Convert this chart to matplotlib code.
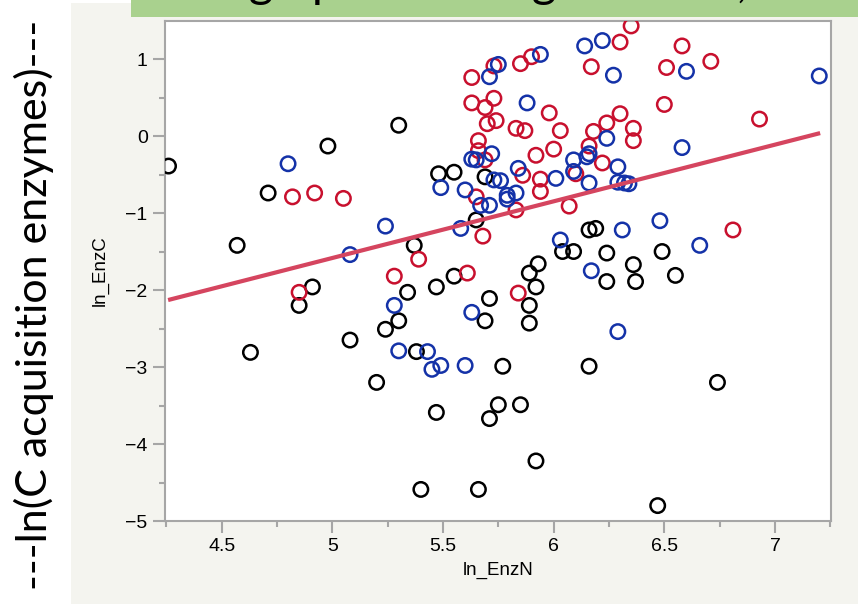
import matplotlib.pyplot as plt
from matplotlib.patches import Rectangle
from matplotlib.ticker import MultipleLocator

# ln_EnzN (x) vs ln_EnzC (y), one pair of lists per group
black_x = [4.26, 4.98, 5.30, 4.71, 4.57, 5.48, 5.55, 5.69, 5.65, 5.37,
           5.55, 4.91, 4.85, 4.63, 5.08, 5.20, 5.24, 5.30, 5.34, 5.47,
           5.38, 5.47, 5.71, 5.69, 5.77, 5.75, 5.71, 5.40, 5.66, 5.93,
           5.89, 5.92, 5.89, 5.89, 5.85, 5.92, 6.16, 6.24, 6.37, 6.36,
           6.24, 6.04, 6.09, 6.49, 6.55, 6.74, 6.47, 6.16, 6.19]
black_y = [-0.39, -0.13, 0.14, -0.74, -1.42, -0.49, -0.47, -0.53, -1.09, -1.42,
           -1.82, -1.96, -2.20, -2.81, -2.65, -3.20, -2.51, -2.40, -2.03, -1.96,
           -2.80, -3.59, -2.11, -2.40, -2.99, -3.49, -3.67, -4.59, -4.59, -1.66,
           -1.78, -1.96, -2.20, -2.43, -3.49, -4.22, -2.99, -1.89, -1.89, -1.67,
           -1.52, -1.50, -1.50, -1.50, -1.81, -3.20, -4.80, -1.22, -1.20]

red_x = [4.85, 4.82, 4.92, 5.05, 5.63, 5.73, 5.63, 5.69, 5.73, 5.70,
         5.74, 5.66, 5.66, 5.69, 5.65, 5.68, 5.39, 5.28, 5.61, 5.85,
         5.90, 6.30, 6.35, 6.58, 6.51, 6.71, 6.17, 6.50, 6.93, 5.83,
         5.87, 5.98, 6.03, 5.92, 6.00, 5.86, 5.94, 5.94, 5.83, 6.07,
         6.10, 6.16, 6.18, 6.24, 6.30, 6.36, 6.36, 6.22, 6.81, 5.84]
red_y = [-2.03, -0.79, -0.74, -0.81, 0.76, 0.91, 0.43, 0.37, 0.49, 0.16,
         0.20, -0.06, -0.19, -0.31, -0.79, -1.30, -1.60, -1.82, -1.78, 0.94,
         1.03, 1.22, 1.43, 1.17, 0.89, 0.97, 0.90, 0.41, 0.22, 0.10,
         0.07, 0.30, 0.07, -0.25, -0.17, -0.51, -0.56, -0.72, -0.96, -0.91,
         -0.49, -0.13, 0.06, 0.17, 0.29, 0.10, -0.06, -0.35, -1.22, -2.04]

blue_x = [4.80, 5.24, 5.08, 5.49, 5.60, 5.63, 5.65, 5.71, 5.75, 5.72,
          5.73, 5.76, 5.71, 5.67, 5.58, 5.94, 6.14, 6.22, 6.27, 6.60,
          7.20, 5.88, 5.84, 5.83, 5.79, 5.79, 6.01, 6.09, 6.09, 6.15,
          6.16, 6.16, 6.24, 6.29, 6.29, 6.32, 6.34, 6.58, 6.48, 6.31,
          6.03, 6.66, 6.17, 6.29, 5.28, 5.30, 5.43, 5.45, 5.49, 5.60,
          5.63]
blue_y = [-0.36, -1.17, -1.54, -0.67, -0.70, -0.30, -0.31, 0.77, 0.93, -0.23,
          -0.57, -0.58, -0.90, -0.90, -1.20, 1.06, 1.17, 1.24, 0.79, 0.84,
          0.78, 0.43, -0.42, -0.74, -0.77, -0.82, -0.55, -0.31, -0.46, -0.27,
          -0.23, -0.61, -0.03, -0.40, -0.60, -0.61, -0.62, -0.15, -1.10, -1.22,
          -1.35, -1.42, -1.75, -2.54, -2.20, -2.79, -2.80, -3.03, -2.98, -2.98,
          -2.29]

# fitted line, as drawn in the original
fit_slope = 0.736
fit_intercept = -5.264
fit_range = [4.258, 7.204]

x_ticks = [4.5, 5, 5.5, 6, 6.5, 7]
x_tick_labels = ["4.5", "5", "5.5", "6", "6.5", "7"]
y_ticks = [-5, -4, -3, -2, -1, 0, 1]

W, H = 858, 606
fig = plt.figure(figsize=(W / 100, H / 100), dpi=100)
fig.patch.set_facecolor("white")

# beige panel behind the JMP graph and the green title strip above it
fig.patches.append(Rectangle((71 / W, 2 / H), (W - 71) / W, 601 / H,
                             transform=fig.transFigure, facecolor="#f4f4ef",
                             edgecolor="none", zorder=-3))
fig.patches.append(Rectangle((131 / W, 1 - 17 / H), (W - 131) / W, 17 / H,
                             transform=fig.transFigure, facecolor="#a9d18e",
                             edgecolor="none", zorder=-2))
# title strip text is cut by the top edge in the original: mostly descenders show
fig.text(128 / W, 1 + 3 / H, "Scaling up across log N and C,",
         fontsize=34, family="Lato", va="baseline", ha="left", zorder=-1)

fig.text(34 / W, 1 - 305 / H, "---ln(C acquisition enzymes)---", rotation=90,
         fontsize=31, family="Lato", ha="center", va="center")

ax = fig.add_axes([165 / W, 1 - 521 / H, 666 / W, 500 / H])
ax.set_facecolor("white")

ring = dict(facecolors="none", s=108, linewidths=1.8, zorder=3)
ax.scatter(black_x, black_y, edgecolors="#000000", **ring)
ax.scatter(red_x, red_y, edgecolors="#c8102e", **ring)
ax.scatter(blue_x, blue_y, edgecolors="#1432a8", **ring)

fit_y = [fit_intercept + fit_slope * v for v in fit_range]
ax.plot(fit_range, fit_y, color="#d5455f", lw=3, solid_capstyle="butt", zorder=4)

ax.set_xlim(4.244, 7.253)
ax.set_ylim(-5, 1.494)
ax.set_xticks(x_ticks)
ax.set_xticklabels(x_tick_labels)
ax.set_yticks(y_ticks)
ax.xaxis.set_minor_locator(MultipleLocator(0.25))
ax.yaxis.set_minor_locator(MultipleLocator(0.5))

for s in ax.spines.values():
    s.set_color("#a6a6a6")
    s.set_linewidth(1.5)
ax.tick_params(which="major", length=8.5, width=1.5, color="#a6a6a6",
               labelsize=14, pad=4)
ax.tick_params(which="minor", length=4.5, width=1.5, color="#a6a6a6")
for lab in ax.get_xticklabels() + ax.get_yticklabels():
    lab.set_family("Liberation Sans")

ax.set_xlabel("ln_EnzN", fontsize=13.5, family="Liberation Sans", labelpad=5)
ax.set_ylabel("ln_EnzC", fontsize=13.5, family="Liberation Sans", labelpad=12)

fig.savefig("out.png", dpi=100)
